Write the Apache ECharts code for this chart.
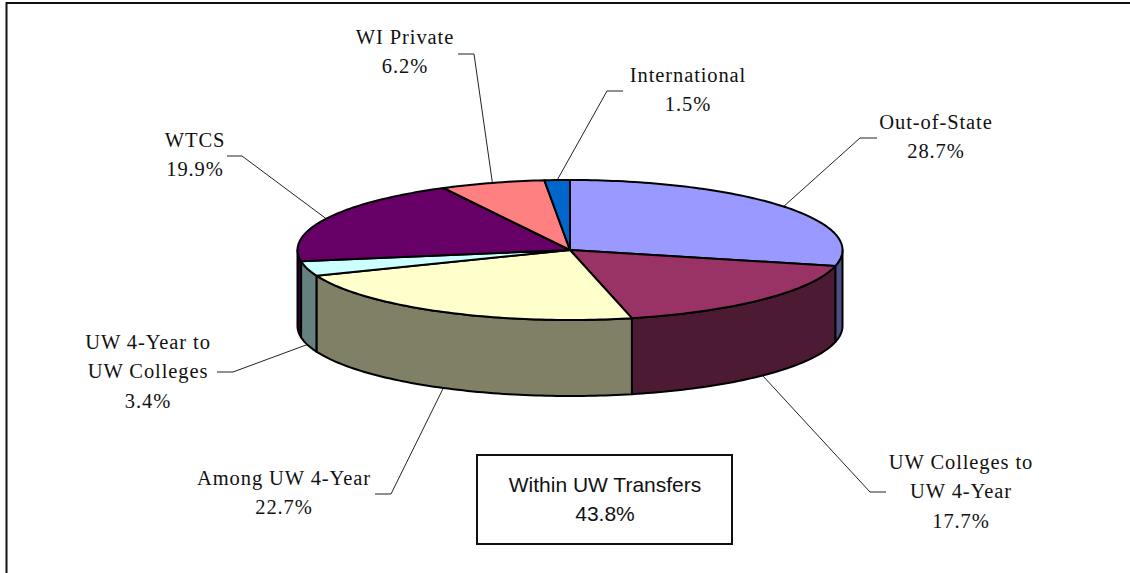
<!DOCTYPE html>
<html><head><meta charset="utf-8">
<style>html,body{margin:0;padding:0;background:#fff}#c{width:1130px;height:573px}
svg text[style*="Serif"]{letter-spacing:.9px}</style>
<script src="https://cdn.jsdelivr.net/npm/echarts@6/dist/echarts.min.js"></script>
</head><body><div id="c"></div>
<script>
const categories = ['Out-of-State','UW Colleges to UW 4-Year','Among UW 4-Year','UW 4-Year to UW Colleges','WTCS','WI Private','International'];
const values = [28.7,17.7,22.7,3.4,19.9,6.2,1.5];
const labelLines = [['Out-of-State'],['UW Colleges to','UW 4-Year'],['Among UW 4-Year'],['UW 4-Year to','UW Colleges'],['WTCS'],['WI Private'],['International']];
const topColors = ['#9999FF','#993366','#FFFFCC','#CCFFFF','#660066','#FF8080','#0066CC'];
const sideColors = ['#4D4D80','#4D1A33','#808066','#668080','#330033','#804040','#003366'];
// label placement: text centre x, first baseline y, leader elbow, leader end
const labelX = [936,961,284,148,195,405,688];
const labelY = [128,468,484,348,146,43,81];
const elbows = [[860,138],[870,492],[391,494],[233,372],[242,156],[474,54],[607,91]];
const ends = [[877,138],[886,492],[375,494],[217,372],[227,156],[458,54],[623,91]];
const pie = {cx:570,cy:250,rx:272.5,ry:70,depth:76};
const total = values.reduce((a,b)=>a+b,0);
let cum = 0;
const starts = values.map(v=>{const s=cum;cum+=v;return s/total*Math.PI*2;});
const pt = (a,dy)=>[pie.cx+pie.rx*Math.sin(a),pie.cy-pie.ry*Math.cos(a)+(dy||0)];
function arc(a0,a1,dy){const n=Math.max(2,Math.ceil((a1-a0)/0.02));const r=[];for(let i=0;i<=n;i++)r.push(pt(a0+(a1-a0)*i/n,dy));return r;}
function renderItem(params,api){
  const i=params.dataIndex,v=api.value(0);
  const a0=starts[i],a1=a0+v/total*Math.PI*2,mid=(a0+a1)/2;
  const ch=[];
  const w0=Math.max(a0,Math.PI/2),w1=Math.min(a1,Math.PI*1.5);
  if(w1>w0){
    const pts=arc(w0,w1).concat(arc(w0,w1,pie.depth).reverse());
    ch.push({type:'polygon',z2:2,shape:{points:pts},style:{fill:sideColors[i],stroke:'#000',lineWidth:2,lineJoin:'round'}});
  }
  ch.push({type:'polygon',z2:3,shape:{points:[[pie.cx,pie.cy]].concat(arc(a0,a1))},style:{fill:topColors[i],stroke:'#000',lineWidth:2,lineJoin:'round'}});
  const front=Math.cos(mid)<0;
  ch.push({type:'polyline',z2:1,shape:{points:[pt(mid,front?pie.depth:0),elbows[i],ends[i]]},style:{fill:null,stroke:'#222',lineWidth:1}});
  labelLines[i].concat([v.toFixed(1)+'%']).forEach((t,k)=>{
    ch.push({type:'text',z2:4,style:{text:t,x:labelX[i],y:labelY[i]+k*29.7+4,textAlign:'center',textVerticalAlign:'bottom',fill:'#111',font:'20.5px "Liberation Serif"'}});
  });
  return {type:'group',children:ch};
}
const chart=echarts.init(document.getElementById('c'),null,{renderer:'svg'});
chart.setOption({
  animation:false,
  graphic:[
    {type:'polyline',shape:{points:[[6.5,573],[6.5,3],[1130,3]]},style:{fill:null,stroke:'#111',lineWidth:2}},
    {type:'rect',shape:{x:477,y:455,width:255,height:89},style:{fill:'#fff',stroke:'#111',lineWidth:2}},
    {type:'text',style:{text:'Within UW Transfers',x:605,y:484,textAlign:'center',textVerticalAlign:'middle',fill:'#111',font:'21px "Liberation Sans"'}},
    {type:'text',style:{text:'43.8%',x:605,y:513,textAlign:'center',textVerticalAlign:'middle',fill:'#111',font:'21px "Liberation Sans"'}}
  ],
  series:[{type:'custom',coordinateSystem:'none',renderItem,silent:true,clip:false,
    data:categories.map((name,i)=>({name,value:[values[i]]}))}]
});
</script></body></html>
